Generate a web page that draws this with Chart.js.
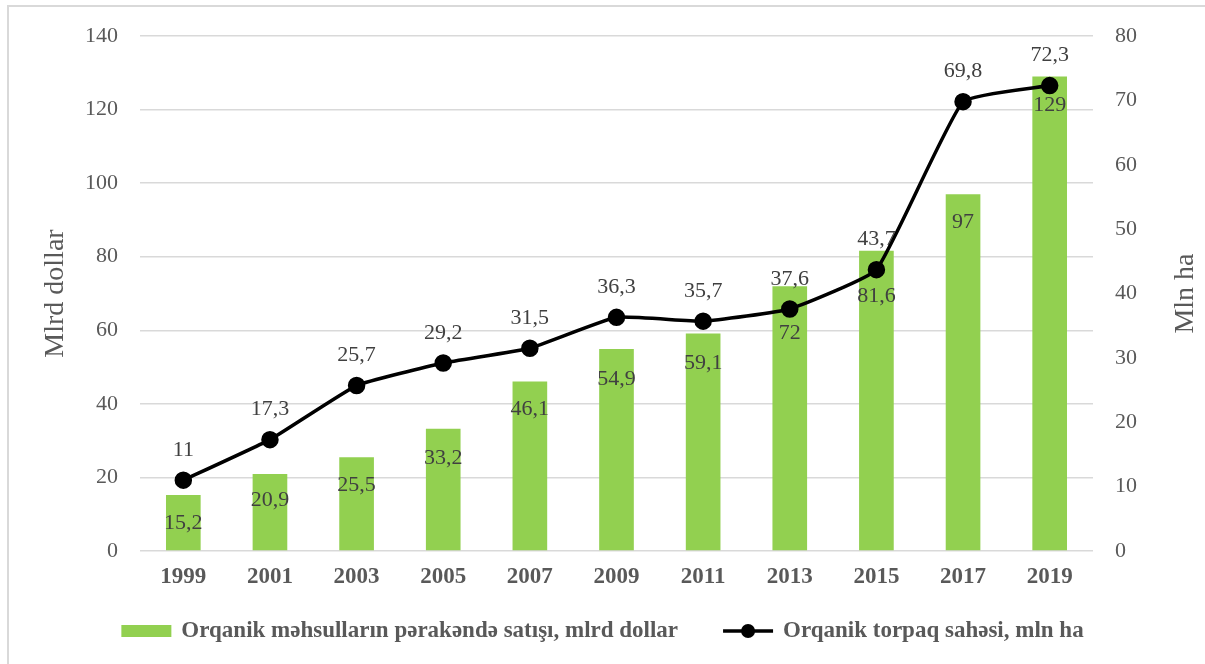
<!DOCTYPE html>
<html>
<head>
<meta charset="utf-8">
<script src="https://cdn.jsdelivr.net/npm/chart.js@4/dist/chart.umd.min.js"></script>
<style>
html,body{margin:0;padding:0;background:#fff;}
#wrap{position:relative;width:1205px;height:664px;}
</style>
</head>
<body>
<div id="wrap"><canvas id="c" width="1205" height="664"></canvas></div>
<script>
const years = ['1999','2001','2003','2005','2007','2009','2011','2013','2015','2017','2019'];
const salesValues = [15.2, 20.9, 25.5, 33.2, 46.1, 54.9, 59.1, 72, 81.6, 97, 129];
const landValues = [11, 17.3, 25.7, 29.2, 31.5, 36.3, 35.7, 37.6, 43.7, 69.8, 72.3];
const salesLabel = 'Orqanik məhsulların pərakəndə satışı, mlrd dollar';
const landLabel = 'Orqanik torpaq sahəsi, mln ha';
const leftTitle = 'Mlrd dollar';
const rightTitle = 'Mln ha';

const SERIF = '"Liberation Serif", "Times New Roman", serif';
const fmt = v => String(v).replace('.', ',');

const decorPlugin = {
  id: 'decor',
  beforeDraw(chart) {
    const ctx = chart.ctx;
    ctx.save();
    ctx.fillStyle = '#fff';
    ctx.fillRect(0, 0, chart.width, chart.height);
    ctx.strokeStyle = '#d9d9d9';
    ctx.lineWidth = 2;
    ctx.strokeRect(8, 6, chart.width + 10, chart.height + 10);
    ctx.restore();
  },
  afterDatasetsDraw(chart, args, opts) {
    const ctx = chart.ctx;
    ctx.save();
    ctx.font = '22px ' + SERIF;
    ctx.fillStyle = '#404040';
    ctx.textAlign = 'center';
    ctx.textBaseline = 'middle';
    const barMeta = chart.getDatasetMeta(0);
    barMeta.data.forEach((el, i) => {
      const off = opts.barOffsets[i];
      ctx.fillText(fmt(chart.data.datasets[0].data[i]), el.x, el.y + off);
    });
    const lineMeta = chart.getDatasetMeta(1);
    lineMeta.data.forEach((el, i) => {
      ctx.fillText(fmt(chart.data.datasets[1].data[i]), el.x, el.y - 30);
    });
    ctx.restore();
  },
  afterDraw(chart) {
    const ctx = chart.ctx;
    const area = chart.chartArea;
    ctx.save();
    // axis titles
    ctx.font = '28px ' + SERIF;
    ctx.fillStyle = '#595959';
    ctx.textAlign = 'center';
    ctx.textBaseline = 'middle';
    const midY = (area.top + area.bottom) / 2;
    ctx.save();
    ctx.translate(56, midY);
    ctx.rotate(-Math.PI / 2);
    ctx.fillText(leftTitle, 0, 0);
    ctx.restore();
    ctx.save();
    ctx.translate(1186, midY);
    ctx.rotate(-Math.PI / 2);
    ctx.fillText(rightTitle, 0, 0);
    ctx.restore();

    // legend
    ctx.font = 'bold 23px ' + SERIF;
    ctx.textBaseline = 'middle';
    ctx.textAlign = 'left';
    const ly = 631;
    const symW = 50, symGap = 10, itemGap = 45;
    const w1 = ctx.measureText(chart.data.datasets[0].label).width;
    const w2 = ctx.measureText(chart.data.datasets[1].label).width;
    const total = symW + symGap + w1 + itemGap + symW + symGap + w2;
    let x = (chart.width - total) / 2;
    ctx.fillStyle = chart.data.datasets[0].backgroundColor;
    ctx.fillRect(x, ly - 6, symW, 12);
    x += symW + symGap;
    ctx.fillStyle = '#595959';
    ctx.fillText(chart.data.datasets[0].label, x, ly);
    x += w1 + itemGap;
    ctx.strokeStyle = '#000';
    ctx.lineWidth = 3.5;
    ctx.beginPath();
    ctx.moveTo(x, ly);
    ctx.lineTo(x + symW, ly);
    ctx.stroke();
    ctx.fillStyle = '#000';
    ctx.beginPath();
    ctx.arc(x + symW / 2, ly, 7, 0, Math.PI * 2);
    ctx.fill();
    x += symW + symGap;
    ctx.fillStyle = '#595959';
    ctx.fillText(chart.data.datasets[1].label, x, ly);
    ctx.restore();
  }
};

new Chart(document.getElementById('c'), {
  data: {
    labels: years,
    datasets: [
      {
        type: 'bar',
        label: salesLabel,
        data: salesValues,
        yAxisID: 'y',
        backgroundColor: '#92D050',
        borderWidth: 0,
        barPercentage: 0.4,
        categoryPercentage: 1,
        order: 1
      },
      {
        type: 'line',
        label: landLabel,
        data: landValues,
        yAxisID: 'y2',
        borderColor: '#000000',
        backgroundColor: '#000000',
        borderWidth: 3.5,
        pointRadius: 7,
        pointHoverRadius: 7,
        pointBackgroundColor: '#000000',
        pointBorderColor: '#000000',
        tension: 0.12,
        order: 0
      }
    ]
  },
  options: {
    responsive: false,
    animation: false,
    events: [],
    layout: { padding: { top: 36, bottom: 0, left: 0, right: 0 } },
    plugins: {
      legend: { display: false },
      tooltip: { enabled: false },
      decor: { barOffsets: [28, 26, 28, 29, 28, 30, 30, 47, 45, 28, 29] }
    },
    scales: {
      x: {
        grid: { display: false, drawTicks: false },
        border: { display: false },
        ticks: { font: { family: SERIF, size: 23, weight: 'bold' }, color: '#595959', padding: 12 },
        afterFit(s) { s.height = 113; }
      },
      y: {
        position: 'left',
        min: 0, max: 140,
        ticks: { stepSize: 20, font: { family: SERIF, size: 22 }, color: '#595959', padding: 22 },
        grid: { color: '#d9d9d9', lineWidth: 1.5, drawTicks: false },
        border: { display: false },
        afterFit(s) { s.width = 140; }
      },
      y2: {
        position: 'right',
        min: 0, max: 80,
        ticks: { stepSize: 10, font: { family: SERIF, size: 22 }, color: '#595959', padding: 22 },
        grid: { display: false, drawTicks: false },
        border: { display: false },
        afterFit(s) { s.width = 112; }
      }
    }
  },
  plugins: [decorPlugin]
});
</script>
</body>
</html>
